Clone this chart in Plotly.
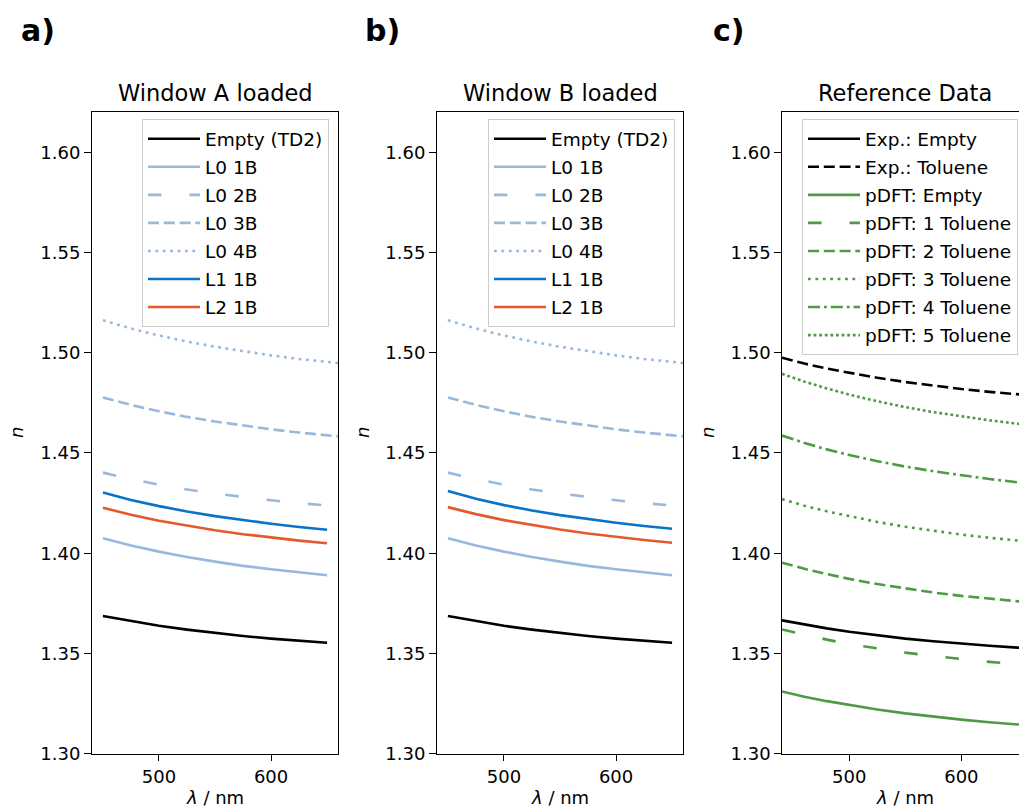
import plotly.graph_objects as go

# ---------------- data ----------------
wl_ab = [450, 475, 500, 525, 550, 575, 600, 625, 650]
wl_ab_long = [450, 475, 500, 525, 550, 575, 600, 625, 650, 675]

# Panel a: Window A loaded
a_empty = [1.3687, 1.3661, 1.3638, 1.3619, 1.3602, 1.3587, 1.3574, 1.3563, 1.3553]
a_l0_1b = [1.4075, 1.4039, 1.4008, 1.3981, 1.3958, 1.3937, 1.3920, 1.3904, 1.3890]
a_l0_2b = [1.4402, 1.4370, 1.4342, 1.4318, 1.4298, 1.4280, 1.4264, 1.4250, 1.4238]
a_l0_3b = [1.4777, 1.4740, 1.4708, 1.4680, 1.4657, 1.4636, 1.4618, 1.4602, 1.4587, 1.4575]
a_l0_4b = [1.5162, 1.5121, 1.5086, 1.5056, 1.5030, 1.5007, 1.4987, 1.4969, 1.4954, 1.4940]
a_l1_1b = [1.4303, 1.4266, 1.4235, 1.4208, 1.4185, 1.4165, 1.4147, 1.4131, 1.4117]
a_l2_1b = [1.4227, 1.4192, 1.4162, 1.4137, 1.4115, 1.4095, 1.4078, 1.4063, 1.4050]

# Panel b: Window B loaded
b_empty = [1.3687, 1.3661, 1.3638, 1.3619, 1.3602, 1.3587, 1.3574, 1.3563, 1.3553]
b_l0_1b = [1.4075, 1.4039, 1.4008, 1.3981, 1.3958, 1.3937, 1.3920, 1.3904, 1.3890]
b_l0_2b = [1.4402, 1.4370, 1.4342, 1.4318, 1.4298, 1.4280, 1.4264, 1.4250, 1.4238]
b_l0_3b = [1.4777, 1.4740, 1.4708, 1.4680, 1.4657, 1.4636, 1.4618, 1.4602, 1.4587, 1.4575]
b_l0_4b = [1.5162, 1.5121, 1.5086, 1.5056, 1.5030, 1.5007, 1.4987, 1.4969, 1.4954, 1.4940]
b_l1_1b = [1.4310, 1.4272, 1.4240, 1.4213, 1.4190, 1.4170, 1.4152, 1.4136, 1.4122]
b_l2_1b = [1.4230, 1.4195, 1.4165, 1.4140, 1.4118, 1.4098, 1.4081, 1.4066, 1.4052]

# Panel c: Reference data
wl_c = [440, 460, 480, 500, 525, 550, 575, 600, 625, 650, 675]
exp_empty = [1.3665, 1.3644, 1.3625, 1.3608, 1.3590, 1.3574, 1.3561, 1.3549, 1.3538, 1.3529, 1.3520]
exp_toluene = [1.4975, 1.4946, 1.4921, 1.4899, 1.4875, 1.4854, 1.4836, 1.4819, 1.4805, 1.4793, 1.4781]
pdft_empty = [1.3310, 1.3284, 1.3262, 1.3242, 1.3220, 1.3201, 1.3184, 1.3170, 1.3157, 1.3146, 1.3135]
pdft_tol1 = [1.3620, 1.3593, 1.3569, 1.3547, 1.3524, 1.3504, 1.3487, 1.3471, 1.3458, 1.3446, 1.3435]
pdft_tol2 = [1.3953, 1.3922, 1.3896, 1.3872, 1.3846, 1.3824, 1.3804, 1.3787, 1.3772, 1.3759, 1.3747]
pdft_tol3 = [1.4270, 1.4237, 1.4209, 1.4184, 1.4156, 1.4132, 1.4111, 1.4093, 1.4077, 1.4063, 1.4050]
pdft_tol4 = [1.4587, 1.4550, 1.4518, 1.4490, 1.4459, 1.4432, 1.4409, 1.4388, 1.4370, 1.4354, 1.4340]
pdft_tol5 = [1.4895, 1.4856, 1.4822, 1.4791, 1.4758, 1.4729, 1.4704, 1.4683, 1.4663, 1.4646, 1.4631]

y_ticks = [1.30, 1.35, 1.40, 1.45, 1.50, 1.55, 1.60]
x_ticks = [500, 600]
panel_titles = ["Window A loaded", "Window B loaded", "Reference Data"]
panel_letters = ["a)", "b)", "c)"]

# ---------------- styles ----------------
W, H = 1019, 820
SY = 1.0 / 0.986   # vertical calibration
FONT = "DejaVu Sans"
BLACK = "#000000"
LBLUE = "#98b9dc"
BLUE = "#0a72c8"
ORANGE = "#e45a2c"
GREEN = "#4f9a45"
LW = 2.6
SOLID = "solid"
LOOSE = "13.5px,28px"
DASHED = "11px,4.8px"
DOTTED = "2.8px,4.6px"
DENSEDOT = "2.8px,2.8px"
DASHDOT = "12px,4px,2.8px,4px"

def px_x(p):
    return p / W

def px_y(p):
    return 1 - p * SY / H

y_dom = [px_y(752.3), px_y(112)]
x_doms = [[px_x(91.7), px_x(338.3)], [px_x(436.7), px_x(683.3)], [px_x(782), 1.0]]
x_ranges = [[440, 660], [440, 660], [440, 651.4]]

fig = go.Figure()

def add(x, y, name, color, dash, axis_idx, legend_name, group):
    suffix = "" if axis_idx == 1 else str(axis_idx)
    fig.add_trace(go.Scatter(
        x=x, y=y, mode="lines", name=name,
        line=dict(color=color, width=LW, dash=dash),
        xaxis="x" + suffix, yaxis="y" + suffix,
        legend=legend_name, legendgroup=legend_name + group,
        showlegend=True, hoverinfo="skip",
    ))

for idx, (legname, data) in enumerate([
    ("legend", [a_empty, a_l0_1b, a_l0_2b, a_l0_3b, a_l0_4b, a_l1_1b, a_l2_1b]),
    ("legend2", [b_empty, b_l0_1b, b_l0_2b, b_l0_3b, b_l0_4b, b_l1_1b, b_l2_1b]),
], start=1):
    e, l01, l02, l03, l04, l1, l2 = data
    add(wl_ab, e, "Empty (TD2)", BLACK, SOLID, idx, legname, "1")
    add(wl_ab, l01, "L0 1B", LBLUE, SOLID, idx, legname, "2")
    add(wl_ab, l02, "L0 2B", LBLUE, LOOSE, idx, legname, "3")
    add(wl_ab_long, l03, "L0 3B", LBLUE, DASHED, idx, legname, "4")
    add(wl_ab_long, l04, "L0 4B", LBLUE, DOTTED, idx, legname, "5")
    add(wl_ab, l1, "L1 1B", BLUE, SOLID, idx, legname, "6")
    add(wl_ab, l2, "L2 1B", ORANGE, SOLID, idx, legname, "7")

add(wl_c, exp_empty, "Exp.: Empty", BLACK, SOLID, 3, "legend3", "1")
add(wl_c, exp_toluene, "Exp.: Toluene", BLACK, DASHED, 3, "legend3", "2")
add(wl_c, pdft_empty, "pDFT: Empty", GREEN, SOLID, 3, "legend3", "3")
add(wl_c, pdft_tol1, "pDFT: 1 Toluene", GREEN, LOOSE, 3, "legend3", "4")
add(wl_c, pdft_tol2, "pDFT: 2 Toluene", GREEN, DASHED, 3, "legend3", "5")
add(wl_c, pdft_tol3, "pDFT: 3 Toluene", GREEN, DOTTED, 3, "legend3", "6")
add(wl_c, pdft_tol4, "pDFT: 4 Toluene", GREEN, DASHDOT, 3, "legend3", "7")
add(wl_c, pdft_tol5, "pDFT: 5 Toluene", GREEN, DENSEDOT, 3, "legend3", "8")

TICKFONT = dict(family=FONT, size=18, color="black")
layout = dict(
    width=W, height=H,
    margin=dict(l=0, r=0, t=0, b=0),
    paper_bgcolor="white", plot_bgcolor="white",
    font=dict(family=FONT, size=18, color="black"),
)
for i in range(3):
    suffix = "" if i == 0 else str(i + 1)
    layout["xaxis" + suffix] = dict(
        domain=x_doms[i], range=x_ranges[i], anchor="y" + suffix,
        tickvals=x_ticks, ticks="outside", ticklen=6.5, tickwidth=1.4, tickcolor="black",
        showline=True, linecolor="black", linewidth=1.4, mirror=True,
        showgrid=False, zeroline=False, tickfont=TICKFONT, fixedrange=True,
    )
    layout["yaxis" + suffix] = dict(
        domain=y_dom, range=[1.30, 1.62], anchor="x" + suffix,
        tickvals=y_ticks, tickformat=".2f", ticks="outside", ticklen=6.5, tickwidth=1.4,
        tickcolor="black", showline=True, linecolor="black", linewidth=1.4,
        mirror=(i < 2), showgrid=False, zeroline=False, tickfont=TICKFONT, fixedrange=True,
    )

LEGFONT = dict(family=FONT, size=18.5, color="black")
def legend_cfg(xr, yt):
    return dict(
        x=xr, y=yt, xanchor="right", yanchor="top", xref="paper", yref="paper",
        bgcolor="rgba(255,255,255,0.8)", bordercolor="#cccccc", borderwidth=1,
        font=LEGFONT, tracegroupgap=1, itemwidth=52,
        itemclick=False, itemdoubleclick=False,
    )
layout["legend"] = legend_cfg(px_x(329), px_y(119))
layout["legend2"] = legend_cfg(px_x(675), px_y(119))
layout["legend3"] = legend_cfg(px_x(1018), px_y(119))

annotations = []
ax_centers = [(d[0] + d[1]) / 2 for d in x_doms]
ax_centers[2] = px_x(782 + 123)
y_mid = (y_dom[0] + y_dom[1]) / 2
ylab_x = [px_x(17), px_x(363), px_x(708)]
letter_x = [px_x(19), px_x(363), px_x(711)]
for i in range(3):
    annotations.append(dict(text=panel_titles[i], x=ax_centers[i], y=px_y(93), xref="paper", yref="paper",
                            xanchor="center", yanchor="middle", showarrow=False,
                            font=dict(family=FONT, size=22.5, color="black")))
    annotations.append(dict(text="<b>" + panel_letters[i] + "</b>", x=letter_x[i], y=px_y(30),
                            xref="paper", yref="paper", xanchor="left", yanchor="middle",
                            showarrow=False, font=dict(family=FONT, size=30, color="black")))
    annotations.append(dict(text="<i>n</i>", x=ylab_x[i], y=y_mid, xref="paper", yref="paper",
                            xanchor="center", yanchor="middle", textangle=-90, showarrow=False,
                            font=dict(family=FONT, size=18, color="black")))
    annotations.append(dict(text="<i>λ</i> / nm", x=ax_centers[i], y=px_y(796), xref="paper", yref="paper",
                            xanchor="center", yanchor="middle", showarrow=False,
                            font=dict(family=FONT, size=18, color="black")))
layout["annotations"] = annotations

fig.update_layout(**layout)

POST = (
    "var d=document.documentElement, b=document.body;"
    "d.style.margin='0'; d.style.padding='0'; d.style.overflow='hidden';"
    "b.style.margin='0'; b.style.padding='0'; b.style.overflow='hidden';"
)
fig.write_html("out.html", config={"displayModeBar": False}, post_script=POST)
